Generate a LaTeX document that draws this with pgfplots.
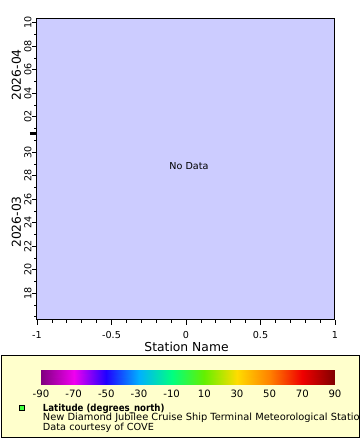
\documentclass[border=0pt]{standalone}
\usepackage{fontspec}
\setmainfont{DejaVu Sans}
\usepackage{graphicx}
\usepackage{pgfplots}
\pgfplotsset{compat=1.18}
\definecolor{plotbg}{RGB}{204,204,255}
\definecolor{legbg}{RGB}{255,255,204}
\definecolor{mkgreen}{RGB}{64,255,64}
\newcommand{\tfont}{\fontsize{7.2}{8}\selectfont}
\begin{document}
\begin{tikzpicture}
\fill[white] (0,0) rectangle (270pt,330pt);
\draw[fill=legbg, line width=0.75pt] (0.75pt,1.5pt) rectangle (269.25pt,63pt);
\begin{axis}[at={(27.75pt,90pt)}, anchor=south west, scale only axis,
 width=223.5pt, height=225.75pt,
 xmin=-1, xmax=1, ymin=15.73, ymax=41.31,
 axis background/.style={fill=plotbg},
 xtick={-1,-0.5,0,0.5,1}, xticklabels={-1,-0.5,0,0.5,1},
 minor x tick num=4,
 ytick={18,20,22,24,26,28,30,33,35,37,39,41},
 yticklabels={18,20,22,24,26,28,30,02,04,06,08,10},
 minor ytick={16,17,...,41},
 tick align=outside, xtick pos=left, ytick pos=left,
 major tick length=3.5pt, minor tick length=2pt,
 tick style={black, line width=0.5pt},
 ticklabel style={font=\tfont},
 xticklabel style={anchor=base, inner sep=0pt, yshift=-10.25pt},
 yticklabel style={xshift=-0.8pt, rotate=90, anchor=base, inner sep=0pt},
 /pgf/number format/assume math mode=true,
 extra y ticks={31.6}, extra y tick labels={},
 extra y tick style={major tick length=5.25pt, tick style={line width=2.25pt}},
 axis line style={line width=0.75pt},
]
\node[font=\tfont] at (rel axis cs:0.51,0.51) {No Data};
\end{axis}
\node[rotate=90, font=\fontsize{9.25}{10}\selectfont] at (12.3pt,273.75pt) {2026-04};
\node[rotate=90, font=\fontsize{9.25}{10}\selectfont] at (12.3pt,163.5pt) {2026-03};
\node[font=\fontsize{9.25}{10}\selectfont] at (139.9pt,69.75pt) {Station Name};
\begin{axis}[at={(30.75pt,41.25pt)}, anchor=south west, scale only axis,
 width=220.5pt, height=11.25pt, view={0}{90},
 xmin=-90, xmax=90, ymin=0, ymax=1, zmin=-1, zmax=1,
 colormap={erd}{rgb255=(128,0,128) rgb255=(240,0,240) rgb255=(32,0,255) rgb255=(0,176,255) rgb255=(0,255,128) rgb255=(100,240,0) rgb255=(255,220,0) rgb255=(255,128,0) rgb255=(240,0,0) rgb255=(128,0,0)},
 axis line style={draw=none},
 xtick={-90,-70,-50,-30,-10,10,30,50,70,90},
 xticklabels={-90,-70,-50,-30,-10,10,30,50,70,90},
 ytick=\empty, ztick=\empty, major tick length=0pt,
 xticklabel style={font=\fontsize{7.6}{8}\selectfont, anchor=base, inner sep=0pt, yshift=-9.75pt},
]
\addplot3[surf, shader=interp, point meta=x] coordinates {
(-90,0,0) (-70,0,0) (-50,0,0) (-30,0,0) (-10,0,0) (10,0,0) (30,0,0) (50,0,0) (70,0,0) (90,0,0)

(-90,1,0) (-70,1,0) (-50,1,0) (-30,1,0) (-10,1,0) (10,1,0) (30,1,0) (50,1,0) (70,1,0) (90,1,0)
};
\end{axis}
\draw[fill=mkgreen, line width=0.5pt] (14.2pt,22.1pt) rectangle (18pt,25.9pt);
\node[anchor=base west, inner sep=0pt, font=\fontsize{7.3}{8}\selectfont\bfseries] at (32pt,21.4pt) {\scalebox{0.885}[1]{Latitude (degrees\_north)}};
\node[anchor=base west, inner sep=0pt, font=\fontsize{7.4}{8}\selectfont] at (32pt,14.25pt) {New Diamond Jubilee Cruise Ship Terminal Meteorological Station};
\node[anchor=base west, inner sep=0pt, font=\fontsize{7.3}{8}\selectfont] at (32pt,7.5pt) {Data courtesy of COVE};
\pgfresetboundingbox
\path[use as bounding box] (0,0) rectangle (270pt,330pt);
\end{tikzpicture}
\end{document}
